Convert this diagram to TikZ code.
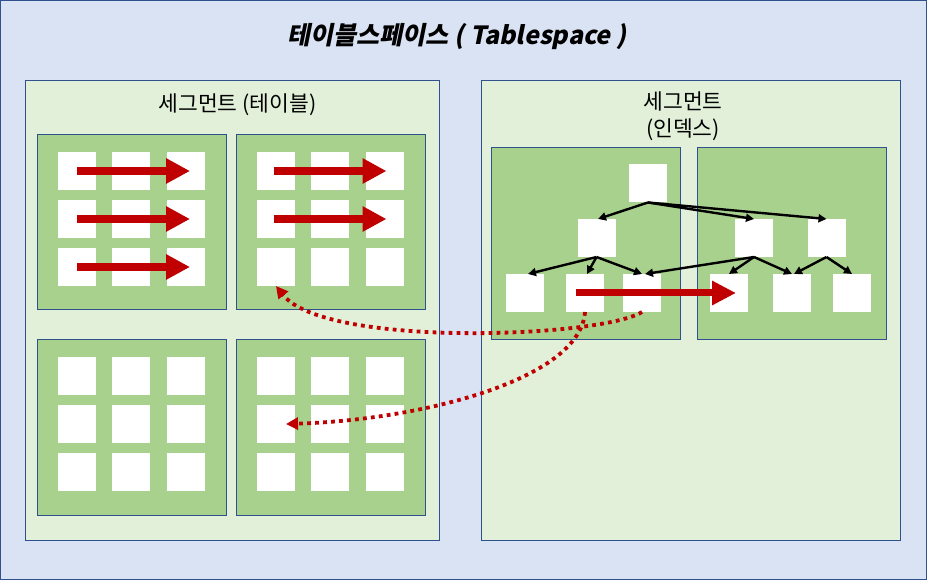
\documentclass[tikz,border=0pt]{standalone}
\usepackage{fontspec}
\setmainfont{Noto Sans CJK KR}
\newfontfamily\titlefont{Noto Sans CJK KR}[FakeSlant=0.2]
\usetikzlibrary{arrows.meta}
\definecolor{bgc}{HTML}{DAE3F3}
\definecolor{segc}{HTML}{E2F0D9}
\definecolor{extc}{HTML}{A9D18E}
\definecolor{bordc}{HTML}{2F528F}
\definecolor{redc}{HTML}{C00000}
\tikzset{
 box/.style={draw=bordc,line width=0.9pt,inner sep=0pt,outer sep=0pt},
 seg/.style={box,fill=segc},
 ext/.style={box,fill=extc},
 cell/.style={fill=white,inner sep=0pt,outer sep=0pt,minimum size=38pt},
 bigred/.style={draw=redc,line width=8pt,-{Triangle[length=24pt,width=24pt]}},
 idxred/.style={draw=redc,line width=7pt,-{Triangle[length=24pt,width=23pt]}},
 tree/.style={draw=black,line width=2.4pt,-{Triangle[length=8pt,width=8pt]}},
 dots/.style={draw=redc,line width=3.8pt,dash pattern=on 3.8pt off 4.2pt,-{Triangle[length=12pt,width=12pt]}},
 segtitle/.style={font=\fontsize{21.5}{26.5}\selectfont,align=center,inner sep=0pt},
}
\begin{document}
\begin{tikzpicture}[x=1pt,y=-1pt]
\useasboundingbox (0,0) rectangle (927,580);
\node[box,fill=bgc,minimum width=926pt,minimum height=579pt] (bg) at (463.5,290) {};
\node[font=\titlefont\bfseries\fontsize{25}{30}\selectfont,inner sep=0pt] (title) at (457,37) {테이블스페이스 ( Tablespace )};
% segments
\node[seg,minimum width=414pt,minimum height=460pt] (segL) at (232,310) {};
\node[seg,minimum width=419pt,minimum height=460pt] (segR) at (690.5,310) {};
\node[segtitle] (tL) at (237.5,105) {세그먼트 (테이블)};
\node[segtitle] (tR) at (683,116) {세그먼트\\(인덱스)};
% extents
\node[ext,minimum width=189pt,minimum height=175pt] (e1) at (131.5,221.5) {};
\node[ext,minimum width=189pt,minimum height=175pt] (e2) at (330.5,221.5) {};
\node[ext,minimum width=189pt,minimum height=176pt] (e3) at (131.5,427) {};
\node[ext,minimum width=189pt,minimum height=176pt] (e4) at (330.5,427) {};
\node[ext,minimum width=189pt,minimum height=192pt] (ia) at (585.5,243) {};
\node[ext,minimum width=189pt,minimum height=192pt] (ib) at (791.5,243) {};
% blocks
\foreach \b/\ox/\oy in {1/77/171, 2/276/171, 3/77/376, 4/276/376}
 \foreach \r in {1,2,3}
  \foreach \c in {1,2,3}
   \node[cell] (b\b-\r-\c) at ({\ox+(\c-1)*54.25},{\oy+(\r-1)*48}) {};
% index tree
\node[cell] (root) at (648,183.5) {};
\node[cell] (n1) at (596.5,238) {};
\node[cell] (n2) at (754,238) {};
\node[cell] (n3) at (826.5,238) {};
\foreach \i/\x in {1/525,2/585,3/642,4/729,5/792,6/852}
  \node[cell] (l\i) at (\x,293) {};
% red arrows in table
\foreach \r in {1,2,3}
  \draw[bigred] (b1-\r-1.center) -- ([xshift=4.5pt]b1-\r-3.center);
\foreach \r in {1,2}
  \draw[bigred] ([xshift=-2pt]b2-\r-1.center) -- ([xshift=2pt]b2-\r-3.center);
% tree arrows
\draw[tree] (root.south) -- ([xshift=1.5pt]n1.north);
\draw[tree] (root.south) -- (n2.north);
\draw[tree] (root.south) -- (n3.north);
\draw[tree] (n1.south) -- ([xshift=3pt]l1.north);
\draw[tree] (n1.south) -- ([xshift=2pt]l2.north);
\draw[tree] (n1.south) -- (l3.north);
\draw[tree] (n2.south) -- ([xshift=3pt]l3.north);
\draw[tree] (n2.south) -- (l4.north);
\draw[tree] (n2.south) -- (l5.north);
\draw[tree] (n3.south) -- ([xshift=2pt]l5.north);
\draw[tree] (n3.south) -- (l6.north);
% index scan arrow
\draw[idxred] ([xshift=-9pt]l2.center) -- ([xshift=7pt]l4.center);
% dotted access arrows
\draw[dots] (l3.south) .. controls (600,338) and (325,348) .. (b2-3-1.south);
\draw[dots] (l2.south) .. controls (580,380) and (420,420) .. ([xshift=10pt]b4-2-1.center);
\end{tikzpicture}
\end{document}
